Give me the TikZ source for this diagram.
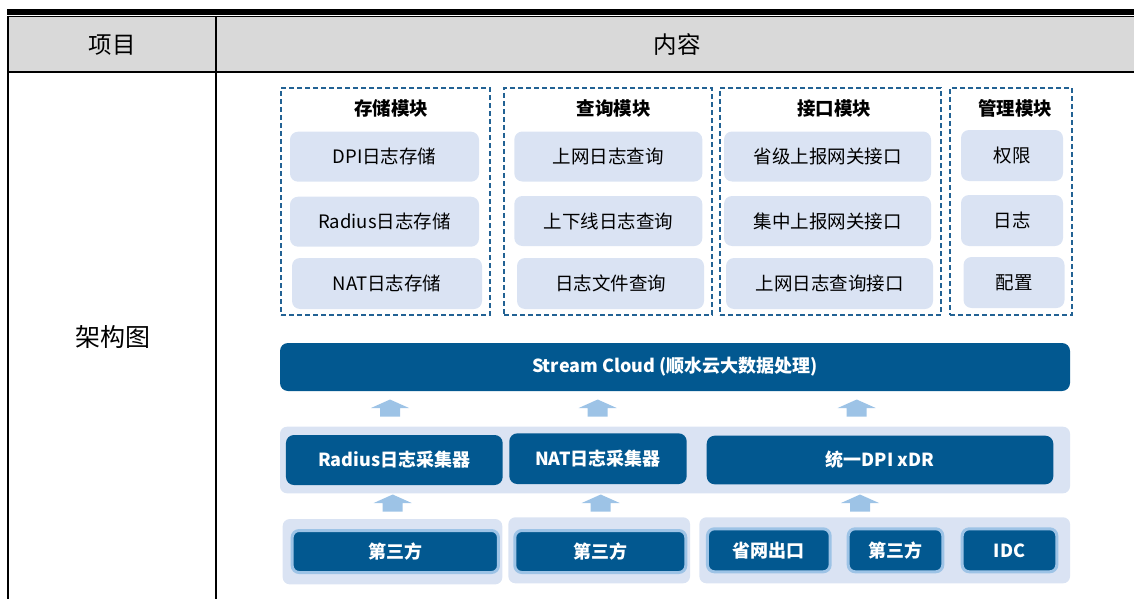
\documentclass[tikz,border=0pt]{standalone}
\usepackage{fontspec}
\setmainfont{Noto Sans CJK SC}
\usepackage{tikz}

\definecolor{dkblue}{RGB}{2,88,144}
\definecolor{itembg}{RGB}{218,227,243}
\definecolor{arrblue}{RGB}{157,195,230}
\definecolor{dashblue}{RGB}{34,98,148}
\definecolor{hdgray}{RGB}{217,217,217}

\begin{document}
\begin{tikzpicture}[x=1pt,y=1pt,yscale=-1,
  modbox/.style={draw=dashblue, line width=1.4pt, dash pattern=on 5pt off 3pt, inner sep=0pt},
  modtitle/.style={font=\fontsize{18.5}{22}\selectfont\bfseries, inner sep=0pt},
  item/.style={fill=itembg, rounded corners=8pt, inner sep=0pt, minimum height=50pt, font=\fontsize{18.5}{22}\selectfont},
  layerbg/.style={fill=itembg, rounded corners=7pt, inner sep=0pt},
  darkbox/.style={fill=dkblue, rounded corners=8pt, inner sep=0pt, text=white, font=\fontsize{18}{22}\selectfont\bfseries},
  srcbox/.style={darkbox, draw=arrblue, line width=3pt, rounded corners=7pt},
  uparrow/.style={fill=arrblue},
  hdtext/.style={font=\fontsize{23.5}{26}\selectfont, inner sep=0pt}]
\useasboundingbox (0,0) rectangle (1134,599);

%Table: rules and header
\fill (7,9) rectangle (1134,15);
\fill[hdgray] (9,17) rectangle (1134,71.5);
\draw[line width=1pt] (7,16.5) -- (1134,16.5);
\draw[line width=1.8pt] (7,72.3) -- (1134,72.3);
\draw[line width=2pt] (8,16) -- (8,599);
\draw[line width=2pt] (216,16) -- (216,599);

% Text Node
\node[hdtext] (item) at (112,45) {项目};
\node[hdtext] (content) at (677,45) {内容};
\node[hdtext, font=\fontsize{25}{28}\selectfont] (arch) at (112.5,337) {架构图};

%Module boxes
\node[modbox, minimum width=209pt, minimum height=227pt] (stmod) at (385.5,201.5) {};
\node[modbox, minimum width=208pt, minimum height=227pt] (qrymod) at (608,201.5) {};
\node[modbox, minimum width=221pt, minimum height=227pt] (ifmod) at (830.5,201.5) {};
\node[modbox, minimum width=122pt, minimum height=227pt] (mgmod) at (1011,201.5) {};

\node[modtitle] (sttitle) at (391,108) {存储模块};
\node[modtitle] (qrytitle) at (613.5,108) {查询模块};
\node[modtitle] (iftitle) at (834,108) {接口模块};
\node[modtitle] (mgtitle) at (1015,108) {管理模块};

%Storage items
\node[item, minimum width=189pt] (stdpi) at (384.5,156.7) {DPI日志存储};
\node[item, minimum width=189pt] (strad) at (384.5,221.7) {Radius日志存储};
\node[item, minimum width=190pt, minimum height=51pt] (stnat) at (387,283.5) {NAT日志存储};

%Query items
\node[item, minimum width=188pt] (qrynet) at (608.3,156.5) {上网日志查询};
\node[item, minimum width=188pt] (qryline) at (608.3,221) {上下线日志查询};
\node[item, minimum width=187pt, minimum height=51pt] (qryfile) at (610.5,283.5) {日志文件查询};

%Interface items
\node[item, minimum width=207pt] (ifprov) at (827.5,156.5) {省级上报网关接口};
\node[item, minimum width=207pt] (ifcent) at (827.5,221) {集中上报网关接口};
\node[item, minimum width=207pt, minimum height=51pt] (ifqry) at (829.5,283.5) {上网日志查询接口};

%Management items
\node[item, minimum width=102pt, minimum height=51pt] (mgauth) at (1012,155.5) {权限};
\node[item, minimum width=102pt, minimum height=51pt] (mglog) at (1012,220.5) {日志};
\node[item, minimum width=101pt, minimum height=51pt] (mgconf) at (1014,282.5) {配置};

%Stream Cloud bar
\node[darkbox, minimum width=790pt, minimum height=48pt] (cloud) at (675,367) {Stream Cloud (顺水云大数据处理)};

%Up arrows, top row
\foreach \ax in {390,597.7,856.7}
  \fill[uparrow] (\ax,416.5) -- ++(-10,0) -- ++(0,-8.5) -- ++(-9,0) -- ++(19,-8.5) -- ++(19,8.5) -- ++(-9,0) -- ++(0,8.5) -- cycle;

%Collector layer
\node[layerbg, minimum width=790pt, minimum height=66.6pt] (colbg) at (675,460) {};
\node[darkbox, minimum width=216.7pt, minimum height=50pt] (radcol) at (394.3,460) {Radius日志采集器};
\node[darkbox, minimum width=177.4pt, minimum height=50.7pt] (natcol) at (598,458.7) {NAT日志采集器};
\node[darkbox, minimum width=346.6pt, minimum height=48.6pt] (xdr) at (880,460) {统一DPI xDR};

%Up arrows, bottom row
\foreach \ax in {392.7,600.7,860}
  \fill[uparrow] (\ax,511.5) -- ++(-10,0) -- ++(0,-8.5) -- ++(-9,0) -- ++(19,-8.5) -- ++(19,8.5) -- ++(-9,0) -- ++(0,8.5) -- cycle;

%Source groups
\node[layerbg, minimum width=219.6pt, minimum height=65.3pt] (grpa) at (392.5,551.7) {};
\node[layerbg, minimum width=181.7pt, minimum height=66pt] (grpb) at (599.2,550.3) {};
\node[layerbg, minimum width=370.7pt, minimum height=66pt] (grpc) at (884.7,550.3) {};

\node[srcbox, minimum width=206.3pt, minimum height=42pt] (thirda) at (395.3,551.5) {第三方};
\node[srcbox, minimum width=171pt, minimum height=42pt] (thirdb) at (600.3,551.5) {第三方};
\node[srcbox, minimum width=122.7pt, minimum height=43pt] (provout) at (768.8,550.3) {省网出口};
\node[srcbox, minimum width=94.6pt, minimum height=43pt] (thirdc) at (895.5,550.3) {第三方};
\node[srcbox, minimum width=94.6pt, minimum height=43pt] (idc) at (1009.5,550.3) {IDC};
\end{tikzpicture}
\end{document}
